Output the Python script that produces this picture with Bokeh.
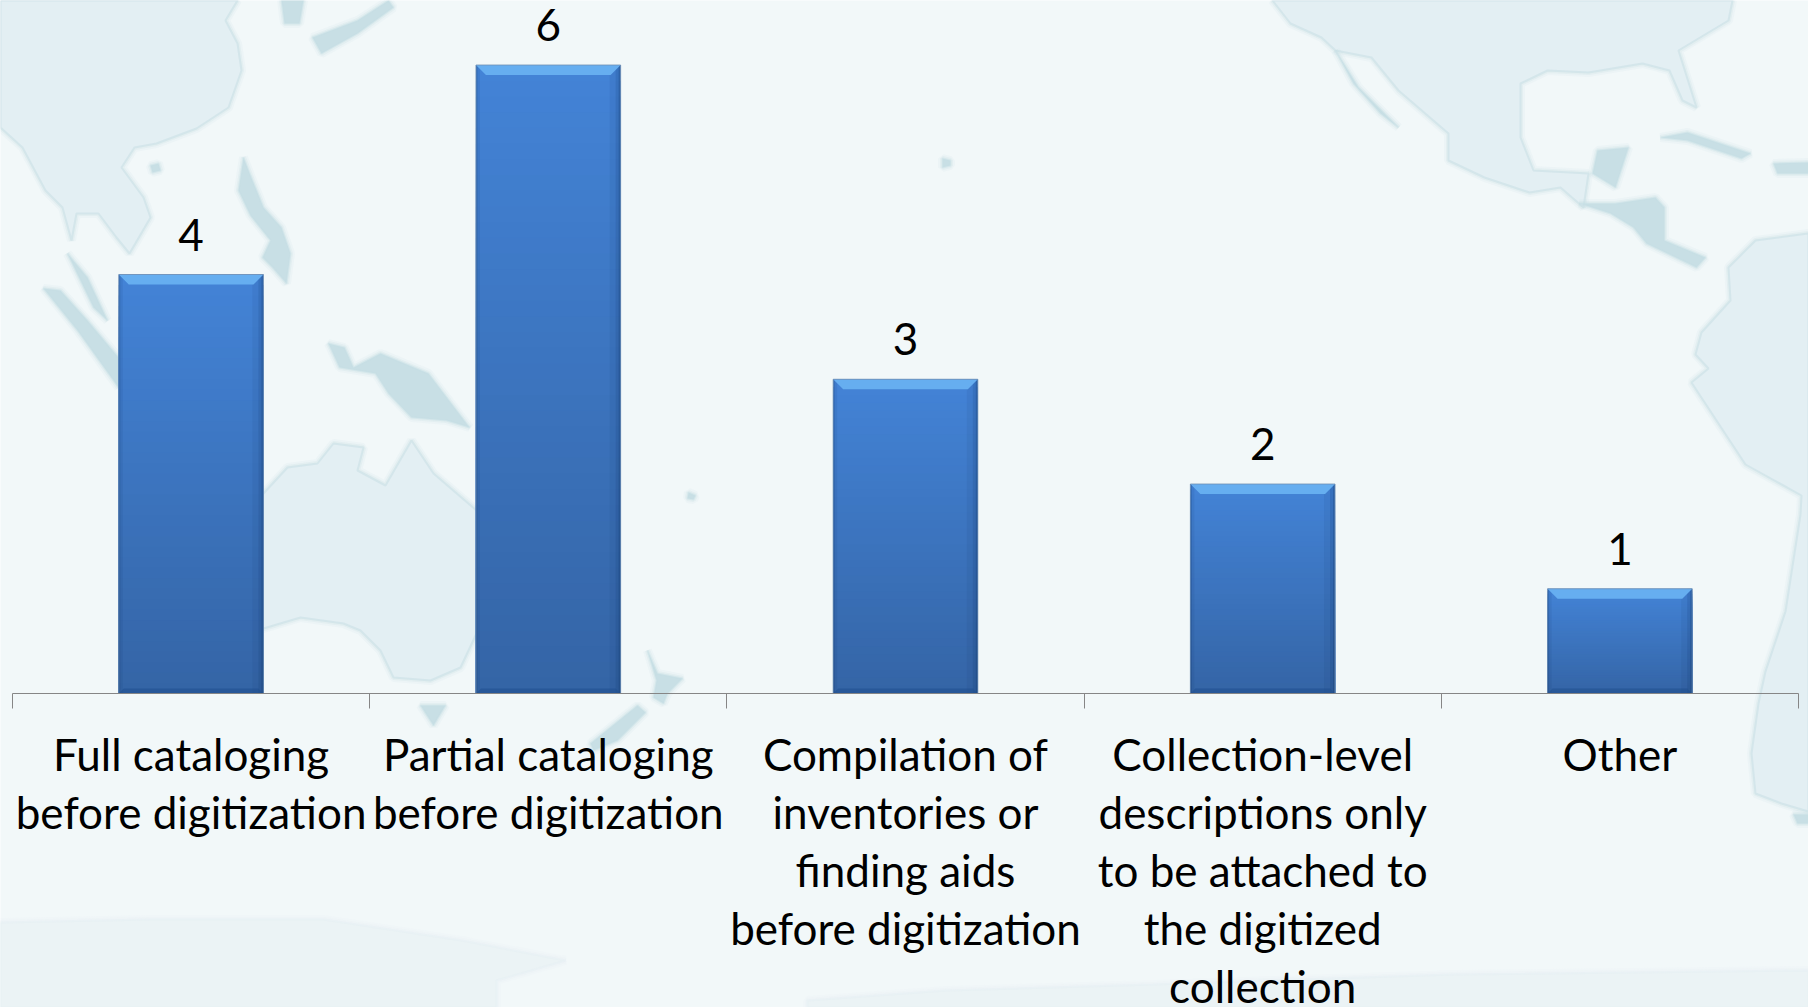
from bokeh.plotting import figure
from bokeh.models import ColumnDataSource, FixedTicker, LinearAxis, PolyAnnotation, Range1d
from bokeh.core.properties import value
from bokeh.embed import file_html
from bokeh.resources import INLINE

categories = ["Full cataloging\nbefore digitization",
              "Partial cataloging\nbefore digitization",
              "Compilation of\ninventories or\nfinding aids\nbefore digitization",
              "Collection-level\ndescriptions only\nto be attached to\nthe digitized\ncollection",
              "Other"]
values = [4, 6, 3, 2, 1]

FONT = "Lato"
FS = "44px"
W, H = 1808, 1007
PX_X, PX_Y = 357.2, 104.75     # pixels per data unit
X0, Y0 = 12, 693               # where the axis starts, in pixels
BAR = 0.405
positions = [i + 0.5 for i in range(len(values))]

p = figure(width=W, height=H, output_backend="svg", toolbar_location=None,
           x_range=Range1d(-X0 / PX_X, (W - X0) / PX_X),
           y_range=Range1d(-(H - Y0) / PX_Y, Y0 / PX_Y),
           min_border=0, background_fill_color="#F2F8F9", border_fill_color="#F2F8F9",
           outline_line_color=None)
p.grid.visible = False
p.xaxis.visible = False
p.yaxis.visible = False

# ---- decorative map behind the chart (page pixels; screen y counts from the foot) ----
LAND = "#E3EFF3"
EDGE = "#C6DEE4"
ISLE = "#C8DFE5"
def land(pts, fill=LAND, line=EDGE):
    xs = [x for x, _ in pts]
    ys = [H - y for _, y in pts]
    for lw, alpha in ((9, 0.12), (5, 0.25)):
        p.add_layout(PolyAnnotation(xs=xs, ys=ys, xs_units="screen", ys_units="screen",
                                    level="underlay", fill_alpha=0, line_color=line,
                                    line_width=lw, line_alpha=alpha))
    p.add_layout(PolyAnnotation(xs=xs, ys=ys, xs_units="screen", ys_units="screen",
                                level="underlay", fill_color=fill, fill_alpha=1,
                                line_color=line, line_width=2, line_alpha=0.5))

land([(0,0),(237,0),(225,20),(237,43),(241,70),(228,107),(196,128),(156,143),(134,147),(121,167),
      (143,197),(150,217),(129,253),(116,237),(98,213),(76,213),(71,240),(62,207),(45,190),(22,147),(0,127)])
land([(281,0),(303,0),(299,23),(284,23)], ISLE, ISLE)
land([(312,37),(357,20),(388,0),(393,7),(357,33),(321,53)], ISLE, ISLE)
land([(150,165),(158,163),(160,170),(152,172)], ISLE, ISLE)
land([(243,157),(250,175),(263,207),(281,227),(290,253),(286,283),(272,267),(262,257),(270,240),(250,215),(238,190)], ISLE, ISLE)
land([(43,288),(60,290),(87,320),(118,357),(118,387),(77,330)], ISLE, ISLE)
land([(67,253),(87,277),(107,320),(93,307),(80,280)], ISLE, ISLE)
land([(328,343),(344,347),(353,367),(380,353),(428,373),(469,427),(446,420),(411,417),(388,393),(375,373),(339,367)], ISLE, ISLE)
land([(263,493),(287,467),(317,463),(333,443),(363,447),(357,470),(385,485),(411,440),(433,473),(476,510),
      (476,633),(460,667),(430,680),(393,677),(380,650),(360,630),(343,623),(300,617),(263,628),(200,640),(200,520)])
land([(420,705),(445,705),(433,725)], ISLE, ISLE)
land([(647,650),(657,673),(682,678),(667,693),(663,703),(653,697),(656,680)], ISLE, ISLE)
land([(637,705),(645,712),(617,740),(593,750),(590,743)], ISLE, ISLE)
land([(942,158),(950,160),(950,165),(942,167)], ISLE, ISLE)
land([(688,492),(695,495),(693,499),(687,498)], ISLE, ISLE)
land([(1272,0),(1290,23),(1321,37),(1335,50),(1371,57),(1398,90),(1448,133),(1448,160),(1484,177),(1529,192),
      (1560,187),(1583,207),(1588,173),(1533,170),(1520,137),(1520,83),(1547,70),(1588,72),(1642,63),(1669,70),
      (1682,100),(1696,107),(1678,50),(1728,20),(1732,0)])
land([(1335,50),(1358,87),(1398,127),(1380,113),(1353,83)], ISLE, ISLE)
land([(1597,150),(1628,147),(1615,187),(1592,173)], ISLE, ISLE)
land([(1579,203),(1610,213),(1633,227),(1646,243),(1696,267),(1705,257),(1664,240),(1664,207),(1655,197),(1615,203)], ISLE, ISLE)
land([(1660,137),(1687,132),(1750,153),(1741,158),(1687,140)], ISLE, ISLE)
land([(1773,163),(1808,162),(1808,173),(1777,173)], ISLE, ISLE)
land([(1808,233),(1755,240),(1728,267),(1730,300),(1701,332),(1695,354),(1708,368),(1691,382),(1745,464),(1801,495),
      (1800,514),(1785,611),(1765,671),(1758,703),(1751,753),(1755,793),(1781,803),(1808,811)])
land([(1793,814),(1808,814),(1808,823),(1797,823)], ISLE, ISLE)
land([(0,922),(150,919),(323,919),(461,940),(565,960),(496,980),(496,1007),(0,1007)], "#EBF3F5", "#E6F0F3")
land([(807,1000),(946,990),(1153,984),(1453,974),(1808,970),(1808,1007),(807,1007)], "#EBF3F5", "#E6F0F3")

# ---- bars: vertical gradient built from each value, tallest slice first ----
TOP = (67, 131, 214)
BOT = (52, 100, 165)
STEPS = 40
seg = dict(left=[], right=[], top=[], bottom=[], color=[])
for x, v in zip(positions, values):
    for i in range(STEPS, 0, -1):
        f = i / STEPS
        c = tuple(round(b + (a - b) * f) for a, b in zip(TOP, BOT))
        seg["left"].append(x - BAR / 2)
        seg["right"].append(x + BAR / 2)
        seg["bottom"].append(0)
        seg["top"].append(v * f)
        seg["color"].append("#%02x%02x%02x" % c)
p.quad(left="left", right="right", top="top", bottom="bottom", fill_color="color",
       line_alpha=0, source=ColumnDataSource(seg))

dx = lambda px: px / PX_X
dy = lambda px: px / PX_Y

for x, v in zip(positions, values):
    l, r = x - BAR / 2, x + BAR / 2
    for w, a in ((2, 0.22), (5, 0.12), (11, 0.07)):
        p.quad(left=[r - dx(w)], right=[r], top=[v], bottom=[0], fill_color="#0b2c5c",
               fill_alpha=a, line_alpha=0)
    for w, a in ((1.5, 0.2), (4, 0.08)):
        p.quad(left=[l], right=[l + dx(w)], top=[v], bottom=[0], fill_color="#0b2c5c",
               fill_alpha=a, line_alpha=0)
    p.patch(x=[l, r, r - dx(5), l + dx(5)], y=[0, 0, dy(5), dy(5)], fill_color="#1f4f8e",
            fill_alpha=0.55, line_alpha=0)
    p.patch(x=[l, r, r - dx(10), l + dx(10)], y=[v, v, v - dy(10), v - dy(10)],
            fill_color="#66AEF0", line_alpha=0)
    p.line(x=[l, l, r, r], y=[0, v, v, 0], line_color="#6F8FB3", line_width=1, line_alpha=0.8)

# ---- value labels ----
p.text(x=positions, y=values, text=[str(v) for v in values], text_align="center",
       text_baseline="alphabetic", y_offset=-40, text_color="black",
       text_font=value(FONT), text_font_size=value(FS))

# ---- category axis: labels at centres, tick marks at the category edges ----
axis = LinearAxis(fixed_location=0, bounds=(0, len(values)),
                  ticker=FixedTicker(ticks=positions, minor_ticks=list(range(len(values) + 1))))
axis.major_label_overrides = {pos: c for pos, c in zip(positions, categories)}
axis.major_tick_line_color = None
axis.major_tick_in = 0
axis.major_tick_out = 0
axis.minor_tick_in = 0
axis.minor_tick_out = 15
axis.minor_tick_line_color = "#868686"
axis.axis_line_color = "#868686"
axis.axis_line_width = 1.2
axis.major_label_standoff = 19
axis.major_label_text_font = FONT
axis.major_label_text_font_size = FS
axis.major_label_text_color = "black"
axis.major_label_text_line_height = 1.12
p.add_layout(axis, "below")

open("out.html", "w").write(file_html(p, INLINE))
